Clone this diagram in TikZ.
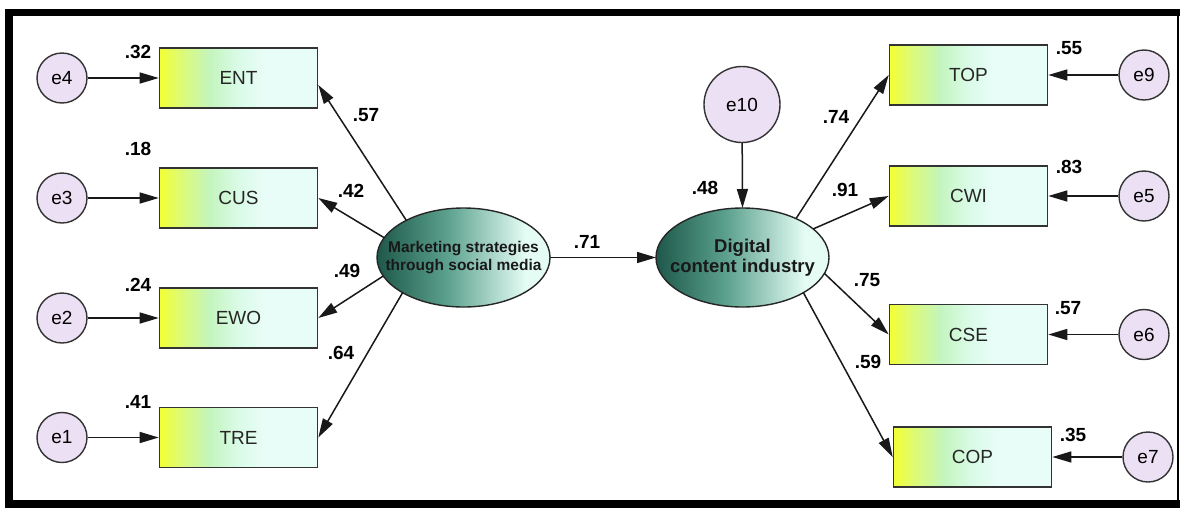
\documentclass[tikz,border=0pt]{standalone}
\usepackage{fontspec}
\setmainfont{Liberation Sans}
\usetikzlibrary{arrows.meta,shapes.geometric}
\definecolor{byel}{RGB}{242,255,50}
\definecolor{byel2}{RGB}{220,250,120}
\definecolor{bgrn}{RGB}{196,245,190}
\definecolor{bgrn2}{RGB}{218,251,232}
\definecolor{bcyan}{RGB}{232,253,247}
\definecolor{ecol}{RGB}{236,224,244}
\definecolor{ldark}{RGB}{30,88,74}
\definecolor{lmid}{RGB}{90,160,140}
\definecolor{llight}{RGB}{228,252,244}
\pgfdeclarehorizontalshading{boxsh}{100bp}{color(0bp)=(byel); color(25bp)=(byel); color(32bp)=(byel2); color(41bp)=(bgrn); color(50bp)=(bgrn2); color(58bp)=(bcyan); color(75bp)=(bcyan); color(100bp)=(bcyan)}
\pgfdeclarehorizontalshading{latsh}{100bp}{color(0bp)=(ldark); color(25bp)=(ldark); color(45bp)=(lmid); color(68bp)=(llight); color(75bp)=(llight); color(100bp)=(llight)}
\begin{document}
\begin{tikzpicture}[x=1pt,y=-1pt,
  obs/.style={draw=black!80, line width=1.6pt, shading=boxsh, minimum width=158pt, minimum height=60pt, inner sep=0pt, font=\fontsize{19}{22}\selectfont, text=black!85},
  err/.style={circle, draw=black!80, line width=1.4pt, fill=ecol, minimum size=50pt, inner sep=0pt, font=\fontsize{19}{22}\selectfont},
  lat/.style={ellipse, draw=black!85, line width=1.4pt, shading=latsh, minimum width=173pt, minimum height=99pt, inner xsep=-45pt, inner ysep=-16pt, outer sep=0pt, align=center, text=black!90},
  con/.style={-{Triangle[length=19pt,width=11pt]}, line width=1.5pt, black!90},
  lbl/.style={font=\bfseries\fontsize{19}{22}\selectfont, inner sep=0pt}]
\useasboundingbox (0,0) rectangle (1180,509);
\fill[white] (0,0) rectangle (1180,509);
% frame
\draw[line width=7.5pt] (1182,12.5) -- (9,12.5) -- (9,504) -- (1182,504);
\draw[line width=1.2pt] (1178,12) -- (1178,504);
% latent variables
\node[lat, font=\bfseries\fontsize{15.5}{18}\selectfont] (msm) at (463.5,257.5) {Marketing strategies\\through social media};
\node[lat, font=\bfseries\fontsize{18.5}{20}\selectfont] (dci) at (742.5,257.5) {Digital\\content industry};
% observed left
\node[obs] (ENT) at (238.5,78) {ENT};
\node[obs] (CUS) at (238.5,198) {CUS};
\node[obs] (EWO) at (238.5,318) {EWO};
\node[obs] (TRE) at (238.5,437.5) {TRE};
% observed right
\node[obs] (TOP) at (968.5,75) {TOP};
\node[obs] (CWI) at (968.5,196) {CWI};
\node[obs] (CSE) at (968.5,334.5) {CSE};
\node[obs] (COP) at (972.5,457) {COP};
% errors
\node[err] (e4) at (62,78) {e4};
\node[err] (e3) at (62,198) {e3};
\node[err] (e2) at (62,318) {e2};
\node[err] (e1) at (62,437.5) {e1};
\node[err] (e9) at (1144,75) {e9};
\node[err] (e5) at (1144,196) {e5};
\node[err] (e6) at (1144,334.5) {e6};
\node[err] (e7) at (1148,457) {e7};
\node[err, minimum size=76pt] (e10) at (742,104.5) {e10};
% error arrows
\draw[con] (e4) -- (ENT.west);
\draw[con] (e3) -- (CUS.west);
\draw[con] (e2) -- (EWO.west);
\draw[con] (e1) -- (TRE.west);
\draw[con] (e9) -- (TOP.east);
\draw[con] (e5) -- (CWI.east);
\draw[con] (e6) -- (CSE.east);
\draw[con] (e7) -- (COP.east);
\draw[con] (e10) -- (dci.north);
% loadings
\draw[con] (msm.147.5) -- (ENT.-5);
\draw[con] (msm.166.5) -- (CUS.east);
\draw[con] (msm.193.5) -- (EWO.east);
\draw[con] (msm.210) -- (TRE.east);
\draw[con] (dci.36.6) -- (TOP.west);
\draw[con] (dci.22.8) -- (CWI.west);
\draw[con] (dci.-11.7) -- (CSE.west);
\draw[con] (dci.-30.4) -- (COP.west);
\draw[con] (msm.east) -- (dci.west);
% labels
\node[lbl] (l32) at (138,52) {.32};
\node[lbl] (l18) at (138,149) {.18};
\node[lbl] (l24) at (138,285) {.24};
\node[lbl] (l41) at (138,402) {.41};
\node[lbl] (l57a) at (366,115) {.57};
\node[lbl] (l42) at (351,191) {.42};
\node[lbl] (l49) at (347,271) {.49};
\node[lbl] (l64) at (341,353) {.64};
\node[lbl] (l71) at (587,242) {.71};
\node[lbl] (l48) at (705,188) {.48};
\node[lbl] (l74) at (836,117) {.74};
\node[lbl] (l91) at (845,190) {.91};
\node[lbl] (l75) at (867,280) {.75};
\node[lbl] (l59) at (868,362) {.59};
\node[lbl] (l55) at (1069,48) {.55};
\node[lbl] (l83) at (1069,167) {.83};
\node[lbl] (l57b) at (1068,308) {.57};
\node[lbl] (l35) at (1073,435) {.35};
\end{tikzpicture}
\end{document}
